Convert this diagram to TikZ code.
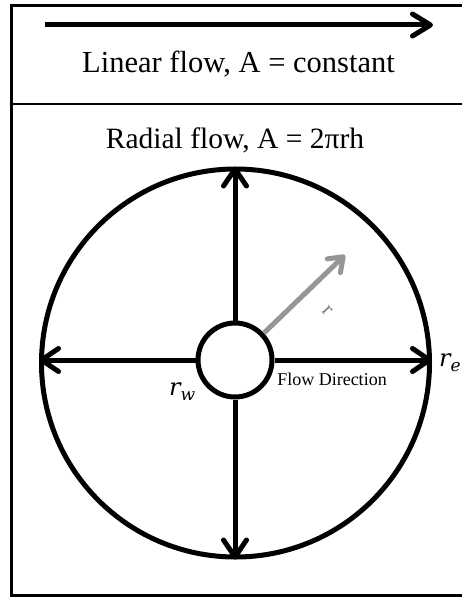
\documentclass[tikz,border=0pt]{standalone}
\usepackage{fontspec}
\setmainfont{Liberation Serif}
\newfontfamily\labfont{DejaVu Serif}
\usetikzlibrary{arrows.meta}
\definecolor{raygray}{RGB}{150,150,150}
\definecolor{labelgray}{RGB}{125,125,125}
\newcommand{\radlab}[2]{{\labfont\itshape\fontsize{24}{28}\selectfont #1\raisebox{-5pt}{\fontsize{17}{20}\selectfont #2}}}
\tikzset{
  frameline/.style={line width=3pt},
  divline/.style={line width=2pt},
  flowarrow/.style={line width=5pt, -{Straight Barb[length=17pt,width=23pt,line cap=round,line join=round]}},
  grayarrow/.style={line width=5pt, draw=raygray, -{Straight Barb[length=13pt,width=19pt,line cap=round,line join=round]}},
  ring/.style={circle, draw, line width=5pt, inner sep=0pt},
  bigtext/.style={font=\fontsize{30.5}{34}\selectfont, inner sep=0pt, anchor=base},
  smalltext/.style={font=\fontsize{18}{20}\selectfont, inner sep=0pt, anchor=base},
  mathlabel/.style={inner sep=0pt, anchor=base west}
}
\begin{document}
\begin{tikzpicture}[x=1pt,y=-1pt]
\useasboundingbox (0,0) rectangle (462,599);
% frame
\draw[frameline] (463,5.5) -- (11.5,5.5) -- (11.5,595.5) -- (463,595.5);
\draw[divline] (11.5,104.5) -- (463,104.5);
% linear flow
\coordinate (la) at (45,25);
\coordinate (lb) at (433,25);
\draw[line width=5pt, -{Straight Barb[length=18pt,width=22pt,line cap=round,line join=round]}] (la) -- (lb);
\node[bigtext] (lin) at (238.5,73) {Linear flow, A = constant};
\node[bigtext, font=\fontsize{29.5}{34}\selectfont] (rad) at (235,148) {Radial flow, A = 2πrh};
% radial
\node[ring, minimum size=388pt] (res) at (235.5,363) {};
\node[ring, minimum size=74pt] (well) at (235,360) {};
\draw[flowarrow] (well.east) -- (res.east |- well.east);
\draw[flowarrow] (well.west) -- (res.west |- well.west);
\draw[flowarrow] (well.north) -- (well.north |- res.north);
\draw[flowarrow] (well.south) -- (well.south |- res.south);
\coordinate (rtip) at (345,255);
\draw[grayarrow] (well.43) -- (rtip);
\node[font=\fontsize{21}{24}\selectfont, text=labelgray, rotate=-47, inner sep=0pt] (rl) at (327,311) {r};
\node[smalltext] (fd) at (332,385) {Flow Direction};
\node[mathlabel] (rw) at (169,395) {\radlab{r}{w}};
\node[mathlabel] (re) at (439,366) {\radlab{r}{e}};
\end{tikzpicture}
\end{document}
